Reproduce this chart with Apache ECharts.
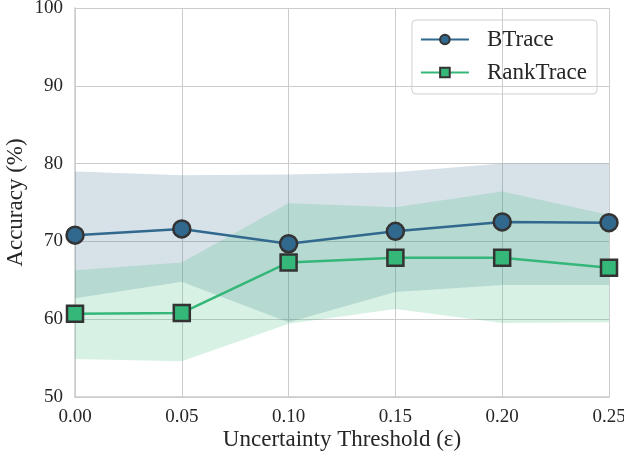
<!DOCTYPE html>
<html><head><meta charset="utf-8">
<script src="https://cdn.jsdelivr.net/npm/echarts@6/dist/echarts.min.js"></script>
<style>html,body{margin:0;padding:0;background:#fff}#c{width:624px;height:458px}</style>
</head><body><div id="c"></div>
<script>
const categories = [0.00, 0.05, 0.10, 0.15, 0.20, 0.25];
const xTickLabels = ['0.00','0.05','0.10','0.15','0.20','0.25'];
const btrace = [70.8, 71.6, 69.7, 71.3, 72.5, 72.4];
const btraceLower = [62.7, 64.8, 59.6, 63.5, 64.4, 64.4];
const btraceUpper = [79.0, 78.5, 78.6, 78.9, 80.0, 80.0];
const rank = [60.7, 60.8, 67.3, 67.9, 67.9, 66.6];
const rankLower = [54.9, 54.6, 59.4, 61.3, 59.5, 59.6];
const rankUpper = [66.3, 67.3, 74.9, 74.4, 76.4, 73.4];

const blue = '#31688e', green = '#35b779', edge = '#333333';
const font = 'Liberation Serif';
const pts = a => a.map((v,i)=>[categories[i], v]);
const bandData = (lo, up) => lo.map((v,i)=>[categories[i], v, up[i]]);

function bandSeries(lo, up, color, name) {
  return {
    name: name, type: 'custom', silent: true, z: 1,
    data: bandData(lo, up),
    encode: {x: 0, y: [1, 2]},
    renderItem: function (params, api) {
      if (params.dataIndex !== 0) return null;
      const top = [], bot = [];
      for (let i = 0; i < categories.length; i++) {
        top.push(api.coord([categories[i], up[i]]));
        bot.push(api.coord([categories[i], lo[i]]));
      }
      const points = top.concat(bot.reverse());
      return {
        type: 'polygon',
        shape: {points: points},
        style: {fill: color, opacity: 0.2, stroke: null}
      };
    }
  };
}

const chart = echarts.init(document.getElementById('c'));
chart.setOption({
  animation: false,
  backgroundColor: '#fff',
  grid: {left: 75, right: 15, top: 8, bottom: 61, containLabel: false, outerBoundsMode: 'none'},
  legend: {
    data: ['BTrace','RankTrace'],
    right: 27, top: 20, orient: 'vertical',
    itemWidth: 48, itemHeight: 12, itemGap: 10,
    padding: [8, 10, 10, 8],
    borderColor: '#d0d0d0', borderWidth: 1, borderRadius: 4,
    textStyle: {fontFamily: font, fontSize: 23, lineHeight: 22, color: '#262626', padding: [0,0,0,13]}
  },
  xAxis: {
    type: 'value', min: 0, max: 0.25, interval: 0.05,
    name: 'Uncertainty Threshold (ε)', nameLocation: 'middle', nameGap: 31, nameMoveOverlap: false,
    nameTextStyle: {fontFamily: font, fontSize: 23, color: '#262626'},
    axisLine: {show: true, lineStyle: {color: '#cccccc', width: 1.5}},
    axisTick: {show: false},
    axisLabel: {fontFamily: font, fontSize: 19, color: '#262626', margin: 11,
      formatter: v => { const i = categories.findIndex(c => Math.abs(c - v) < 1e-9); return i >= 0 ? xTickLabels[i] : ''; }},
    splitLine: {show: true, lineStyle: {color: '#cccccc', width: 1}}
  },
  yAxis: {
    type: 'value', min: 50, max: 100, interval: 10,
    name: 'Accuracy (%)', nameLocation: 'middle', nameGap: 48, nameMoveOverlap: false,
    nameTextStyle: {fontFamily: font, fontSize: 23, color: '#262626'},
    axisLine: {show: true, lineStyle: {color: '#cccccc', width: 1.5}},
    axisTick: {show: false},
    axisLabel: {fontFamily: font, fontSize: 19, color: '#262626', margin: 12},
    splitLine: {show: true, lineStyle: {color: '#cccccc', width: 1}}
  },
  series: [
    bandSeries(btraceLower, btraceUpper, blue, 'bBand'),
    bandSeries(rankLower, rankUpper, green, 'rBand'),
    {name: 'BTrace', type: 'line', data: pts(btrace), symbol: 'circle', symbolSize: 17,
      lineStyle: {color: blue, width: 2.5}, itemStyle: {color: blue, borderColor: edge, borderWidth: 2.5}, z: 3},
    {name: 'RankTrace', type: 'line', data: pts(rank), symbol: 'rect', symbolSize: 16,
      lineStyle: {color: green, width: 2.5}, itemStyle: {color: green, borderColor: edge, borderWidth: 2.5}, z: 3}
  ]
});
</script></body></html>
